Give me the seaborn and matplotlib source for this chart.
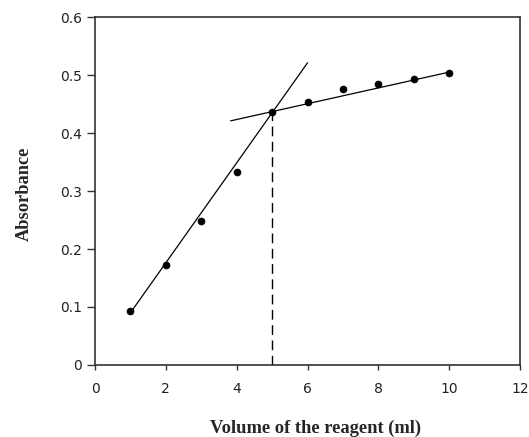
import matplotlib
matplotlib.use("Agg")
import matplotlib.pyplot as plt
import seaborn as sns
import pandas as pd

volume = [1, 2, 3, 4, 5, 6, 7, 8, 9, 10]
absorbance = [0.093, 0.173, 0.248, 0.333, 0.436, 0.454, 0.476, 0.484, 0.494, 0.504]

steep_x = [1.0, 6.0]
steep_y = [0.090, 0.521]
flat_x = [3.83, 10.0]
flat_y = [0.421, 0.505]
drop_x = [5.0, 5.0]
drop_y = [0.0, 0.436]

sns.set_style("white")
fig = plt.figure(figsize=(5.29, 4.37), dpi=100)
ax = fig.add_axes([0.1796, 0.1648, 0.8034, 0.7962])

df = pd.DataFrame({"x": volume, "y": absorbance})
sns.lineplot(x=steep_x, y=steep_y, ax=ax, color="black", linewidth=0.9)
sns.lineplot(x=flat_x, y=flat_y, ax=ax, color="black", linewidth=0.9)
ax.plot(drop_x, drop_y, color="black", linewidth=1.0, linestyle=(0, (7, 4)))
sns.scatterplot(data=df, x="x", y="y", ax=ax, color="black", s=26, edgecolor="black", zorder=5)

ax.set_xlim(0, 12)
ax.set_ylim(0, 0.6)
ax.set_xticks([0, 2, 4, 6, 8, 10, 12])
ax.set_yticks([0, 0.1, 0.2, 0.3, 0.4, 0.5, 0.6])
ax.set_xticklabels(["0", "2", "4", "6", "8", "10", "12"])
ax.set_yticklabels(["0", "0.1", "0.2", "0.3", "0.4", "0.5", "0.6"])
for sp in ax.spines.values():
    sp.set_color("#333333")
    sp.set_linewidth(1.2)
ax.tick_params(axis="both", direction="out", width=1.0, color="#333333",
               labelsize=10, labelcolor="#222222", bottom=True, left=True)
ax.tick_params(axis="x", length=3.5, pad=9)
ax.tick_params(axis="y", length=6, pad=3.5)
for lab in ax.get_xticklabels() + ax.get_yticklabels():
    lab.set_fontfamily("DejaVu Sans")

ax.set_xlabel("Volume of the reagent (ml)", fontfamily="Liberation Serif",
              fontweight="bold", fontsize=13.3)
ax.xaxis.set_label_coords(0.518, -0.158)
ax.set_ylabel("Absorbance", fontfamily="Liberation Serif",
              fontweight="bold", fontsize=13.2)
ax.yaxis.set_label_coords(-0.146, 0.493)

fig.savefig("out.png", dpi=100)
